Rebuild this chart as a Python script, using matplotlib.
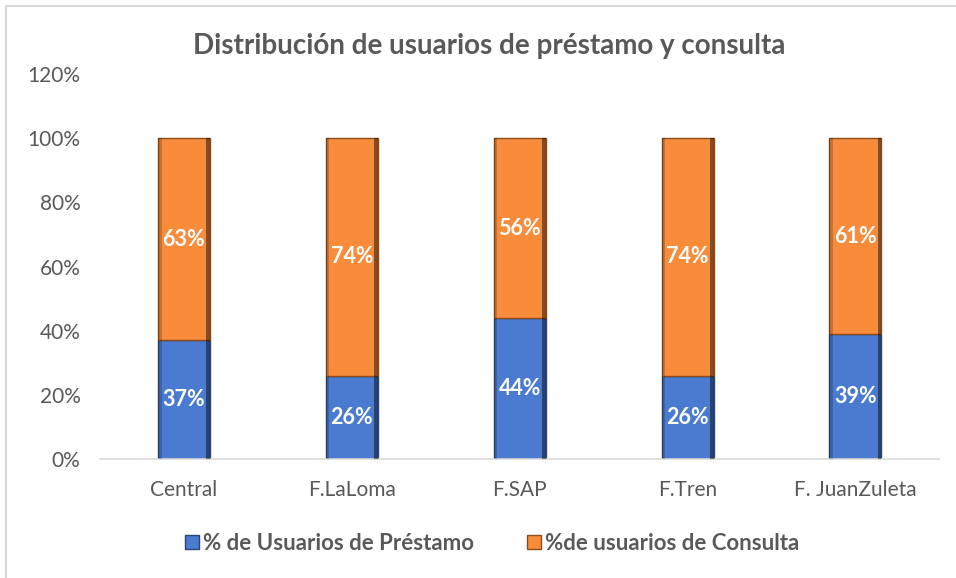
import matplotlib
matplotlib.use("Agg")
import matplotlib.pyplot as plt
from matplotlib.patches import Rectangle
import numpy as np

plt.rcParams['font.family'] = ['Lato', 'DejaVu Sans']

categories = ["Central", "F.LaLoma", "F.SAP", "F.Tren", "F. JuanZuleta"]
prestamo = [37, 26, 44, 26, 39]
consulta = [63, 74, 56, 74, 61]
series_names = ["% de Usuarios de Préstamo", "%de usuarios de Consulta"]
yticks = [0, 20, 40, 60, 80, 100, 120]

blue = "#4A7BD0"
orange = "#F98C3B"
blue_dark = "#2A4576"
orange_dark = "#8A4C1C"

fig = plt.figure(figsize=(9.56, 5.78), dpi=100)
ax = fig.add_axes([0.1046, 0.2059, 0.878, 0.666])

x = np.arange(len(categories))
w = 0.31
p = np.array(prestamo)
c = np.array(consulta)
bottoms = [np.zeros_like(p), p]
heights = [p, c]
fills = [blue, orange]
darks = [blue_dark, orange_dark]

handles = []
for h, b, col, dk, name in zip(heights, bottoms, fills, darks, series_names):
    bars = ax.bar(x, h, w, bottom=b, color=col, edgecolor=dk, linewidth=1.0, label=name, zorder=2)
    handles.append(bars)
    # bevel: dark right strip, shaded left strip
    sw = 0.022
    ax.bar(x + w / 2 - sw / 2, h, sw, bottom=b, color='black', alpha=0.45, linewidth=0, zorder=3)
    ax.bar(x - w / 2 + sw / 2, h, sw, bottom=b, color='black', alpha=0.18, linewidth=0, zorder=3)

for xi, v in zip(x, p):
    ax.text(xi, v / 2, f"{v}%", ha='center', va='center', color='white', fontsize=15.5, fontweight='bold', zorder=5)
for xi, b, v in zip(x, p, c):
    ax.text(xi, b + v / 2, f"{v}%", ha='center', va='center', color='white', fontsize=15.5, fontweight='bold', zorder=5)

ax.set_xlim(-0.5, len(categories) - 0.5)
ax.set_ylim(0, 120)
ax.set_yticks(yticks)
ax.set_yticklabels([f"{t}%" for t in yticks])
ax.set_xticks(x)
ax.set_xticklabels(categories)
for s in ['top', 'right', 'left']:
    ax.spines[s].set_visible(False)
ax.spines['bottom'].set_color('#D9D9D9')
ax.spines['bottom'].set_linewidth(1.2)
ax.tick_params(axis='both', length=0, colors='#595959', labelsize=15)
ax.tick_params(axis='y', pad=14)
ax.tick_params(axis='x', pad=15)

fig.suptitle("Distribución de usuarios de préstamo y consulta", x=0.512, y=0.943,
             fontsize=20, fontweight='bold', color='#595959')

leg = fig.legend(handles=handles, labels=series_names, loc='center', bbox_to_anchor=(0.515, 0.06),
                 ncol=2, frameon=False, handlelength=0.6, handleheight=0.6, handletextpad=0.2,
                 columnspacing=2.4, prop={'weight': 'bold', 'size': 16})
for t in leg.get_texts():
    t.set_color('#595959')

fig.patches.append(Rectangle((0.006, -0.01), 1.5, 1.0, transform=fig.transFigure,
                             fill=False, edgecolor='#D9D9D9', linewidth=1.5))

fig.savefig("out.png", dpi=100)
